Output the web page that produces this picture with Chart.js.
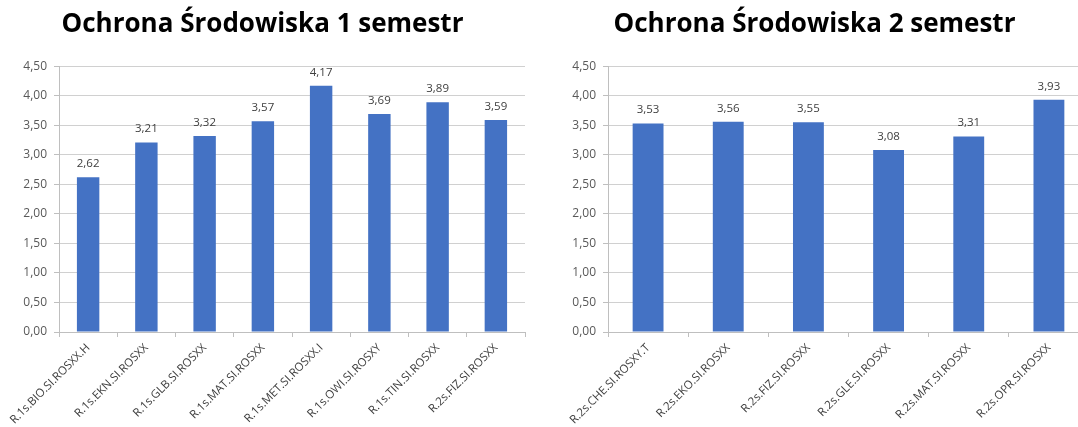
<!DOCTYPE html>
<html>
<head>
<meta charset="utf-8">
<script src="https://cdn.jsdelivr.net/npm/chart.js@4.4.1/dist/chart.umd.min.js"></script>
<style>
  html, body { margin: 0; padding: 0; background: #fff; overflow: hidden; }
  #wrap { position: relative; width: 1078px; height: 427px; overflow: hidden; }
  canvas { position: absolute; top: 0; }
</style>
</head>
<body>
<div id="wrap">
  <canvas id="c1" width="540" height="427" style="left:0px"></canvas>
  <canvas id="c2" width="588" height="427" style="left:540px"></canvas>
</div>
<script>
// ---- data ----
const title1 = 'Ochrona Środowiska 1 semestr';
const categories1 = ['R.1s.BIO.SI.ROSXX.H','R.1s.EKN.SI.ROSXX','R.1s.GLB.SI.ROSXX','R.1s.MAT.SI.ROSXX','R.1s.MET.SI.ROSXX.I','R.1s.OWI.SI.ROSXY','R.1s.TIN.SI.ROSXX','R.2s.FIZ.SI.ROSXX'];
const values1 = [2.62, 3.21, 3.32, 3.57, 4.17, 3.69, 3.89, 3.59];

const title2 = 'Ochrona Środowiska 2 semestr';
const categories2 = ['R.2s.CHE.SI.ROSXY.T','R.2s.EKO.SI.ROSXX','R.2s.FIZ.SI.ROSXX','R.2s.GLE.SI.ROSXX','R.2s.MAT.SI.ROSXX','R.2s.OPR.SI.ROSXX'];
const values2 = [3.53, 3.56, 3.55, 3.08, 3.31, 3.93];

const yMin = 0, yMax = 4.5, yStep = 0.5;

const fmt = v => Number(v).toFixed(2).replace('.', ',');
const FONT = "'Open Sans', 'Noto Sans', sans-serif";

const valueLabels = {
  id: 'valueLabels',
  afterDatasetsDraw(chart) {
    const ctx = chart.ctx;
    ctx.save();
    ctx.font = "11.5px " + FONT;
    ctx.fillStyle = '#404040';
    ctx.textAlign = 'center';
    ctx.textBaseline = 'alphabetic';
    chart.data.datasets.forEach((ds, i) => {
      chart.getDatasetMeta(i).data.forEach((bar, j) => {
        ctx.fillText(fmt(ds.data[j]), bar.x, bar.y - 10);
      });
    });
    ctx.restore();
  }
};

function makeChart(id, title, cats, vals, yWidth, padRight) {
  return new Chart(document.getElementById(id), {
    type: 'bar',
    data: {
      labels: cats,
      datasets: [{
        data: vals,
        backgroundColor: '#4472C4',
        borderWidth: 0,
        categoryPercentage: 0.77,
        barPercentage: 0.5
      }]
    },
    options: {
      responsive: false,
      animation: false,
      devicePixelRatio: 1,
      layout: { padding: { left: 0, right: padRight, top: 0, bottom: 0 } },
      plugins: {
        legend: { display: false },
        tooltip: { enabled: false },
        title: {
          display: true,
          text: title,
          color: '#000000',
          font: { family: FONT, size: 26, weight: 'bold', lineHeight: 1.2 },
          padding: { top: 9, bottom: 26 }
        }
      },
      scales: {
        x: {
          grid: { display: true, drawOnChartArea: false, drawTicks: true, tickLength: 5, color: '#bfbfbf', offset: true },
          border: { display: true, color: '#bfbfbf', width: 1 },
          ticks: {
            color: '#404040',
            font: { family: FONT, size: 11.5 },
            minRotation: 45, maxRotation: 45,
            autoSkip: false,
            padding: 4
          },
          afterFit(scale) { scale.height = 95; }
        },
        y: {
          min: yMin, max: yMax,
          grid: { color: '#d0d0d0', tickLength: 5, tickColor: '#bfbfbf' },
          border: { display: true, color: '#bfbfbf', width: 1 },
          ticks: {
            stepSize: yStep,
            color: '#595959',
            font: { family: FONT, size: 12 },
            padding: 7,
            callback: v => fmt(v)
          },
          afterFit(scale) { scale.width = yWidth; }
        }
      }
    },
    plugins: [valueLabels]
  });
}

makeChart('c1', title1, categories1, values1, 59, 15);
makeChart('c2', title2, categories2, values2, 68, 39);
</script>
</body>
</html>
